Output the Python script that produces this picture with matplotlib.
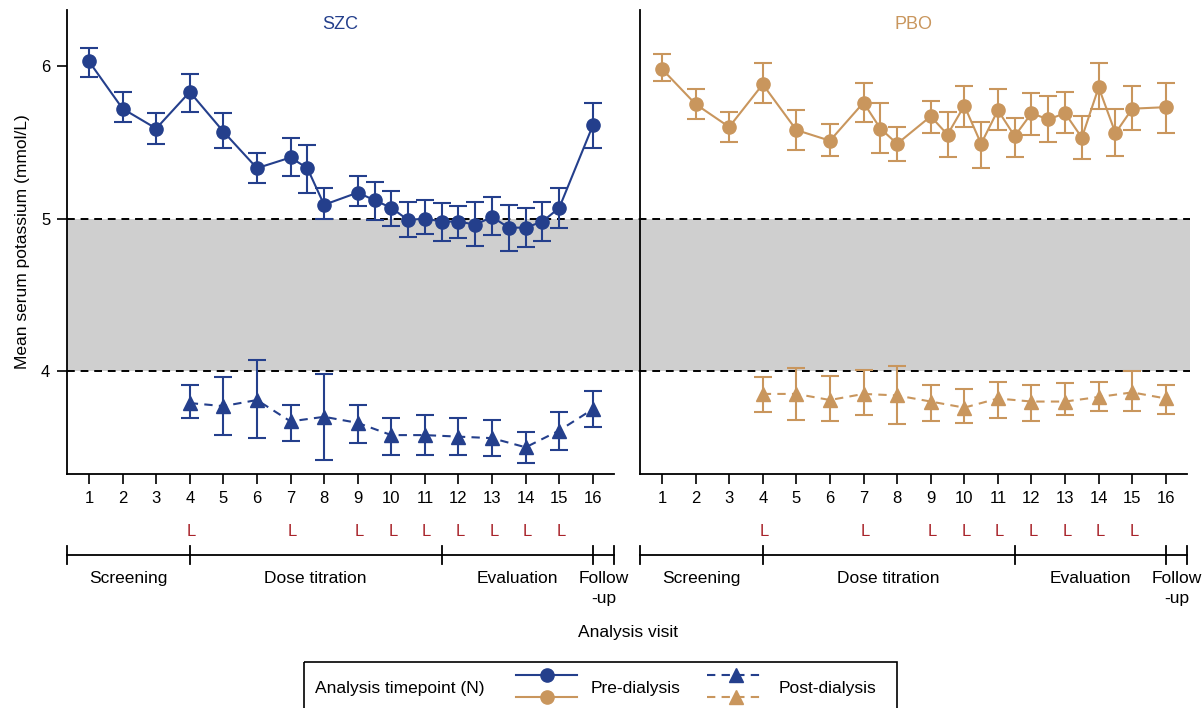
import matplotlib
matplotlib.use('Agg')
import matplotlib.pyplot as plt
from matplotlib.transforms import blended_transform_factory
import numpy as np

plt.rcParams['font.family'] = ['Liberation Sans', 'DejaVu Sans']

# visit positions (pre-dialysis has extra half-visit measurements)
visits = list(range(1, 17))
pre_x = [1, 2, 3, 4, 5, 6, 7, 7.5, 8, 9, 9.5, 10, 10.5, 11, 11.5, 12, 12.5,
         13, 13.5, 14, 14.5, 15, 16]
post_x = [4, 5, 6, 7, 8, 9, 10, 11, 12, 13, 14, 15, 16]

# SZC
szc_pre = [6.03, 5.72, 5.59, 5.83, 5.57, 5.33, 5.40, 5.33, 5.09, 5.17, 5.12, 5.07,
           4.99, 5.00, 4.98, 4.98, 4.96, 5.01, 4.94, 4.94, 4.98, 5.07, 5.61]
szc_pre_lo = [5.93, 5.63, 5.49, 5.70, 5.46, 5.23, 5.28, 5.17, 5.00, 5.08, 4.99, 4.95,
              4.88, 4.90, 4.85, 4.87, 4.82, 4.89, 4.79, 4.81, 4.85, 4.94, 5.46]
szc_pre_hi = [6.12, 5.83, 5.69, 5.95, 5.69, 5.43, 5.53, 5.48, 5.20, 5.28, 5.24, 5.18,
              5.11, 5.12, 5.10, 5.08, 5.11, 5.14, 5.09, 5.07, 5.11, 5.20, 5.76]
szc_post = [3.79, 3.77, 3.81, 3.67, 3.70, 3.66, 3.58, 3.58, 3.57, 3.56, 3.50, 3.61, 3.75]
szc_post_lo = [3.69, 3.58, 3.56, 3.54, 3.42, 3.53, 3.45, 3.45, 3.45, 3.44, 3.40, 3.48, 3.63]
szc_post_hi = [3.91, 3.96, 4.07, 3.78, 3.98, 3.78, 3.69, 3.71, 3.69, 3.68, 3.60, 3.73, 3.87]

# PBO
pbo_pre = [5.98, 5.75, 5.60, 5.88, 5.58, 5.51, 5.76, 5.59, 5.49, 5.67, 5.55, 5.74,
           5.49, 5.71, 5.54, 5.69, 5.65, 5.69, 5.53, 5.86, 5.56, 5.72, 5.73]
pbo_pre_lo = [5.90, 5.65, 5.50, 5.76, 5.45, 5.41, 5.63, 5.43, 5.38, 5.56, 5.40, 5.60,
              5.33, 5.58, 5.40, 5.55, 5.50, 5.56, 5.39, 5.72, 5.41, 5.58, 5.56]
pbo_pre_hi = [6.08, 5.85, 5.70, 6.02, 5.71, 5.62, 5.89, 5.76, 5.60, 5.77, 5.70, 5.87,
              5.63, 5.85, 5.66, 5.82, 5.80, 5.83, 5.67, 6.02, 5.72, 5.87, 5.89]
pbo_post = [3.85, 3.85, 3.81, 3.85, 3.84, 3.80, 3.76, 3.82, 3.80, 3.80, 3.83, 3.86, 3.82]
pbo_post_lo = [3.73, 3.68, 3.67, 3.71, 3.65, 3.67, 3.66, 3.69, 3.67, 3.71, 3.74, 3.74, 3.72]
pbo_post_hi = [3.96, 4.02, 3.97, 4.01, 4.03, 3.91, 3.88, 3.93, 3.91, 3.92, 3.93, 4.00, 3.91]

l_visits = [4, 7, 9, 10, 11, 12, 13, 14, 15]
phase_edges = [4, 11.5, 16]
phase_labels = ['Screening', 'Dose titration', 'Evaluation', 'Follow\n-up']

blue = '#243f8c'
tan = '#c9965d'
red = '#a8232a'
XMIN, XMAX = 0.345, 16.63
YMIN, YMAX = 3.325, 6.367

W, H = 1204, 708
fig = plt.figure(figsize=(W / 100, H / 100), dpi=100)

def fx(px):
    return px / W

def fy(py):
    return 1 - py / H

ax_bottom, ax_h = fy(474), (474 - 10) / H

# background band shared by both panels
bg = fig.add_axes([fx(67), ax_bottom, fx(1190 - 67), ax_h], zorder=0)
bg.set_xlim(0, 1)
bg.set_ylim(YMIN, YMAX)
bg.axhspan(4, 5, color='#cfcfcf', lw=0)
bg.axhline(4, color='black', ls=(0, (4, 3)), lw=1.4)
bg.axhline(5, color='black', ls=(0, (4, 3)), lw=1.4)
bg.axis('off')

panels = [
    (67, 'SZC', blue, szc_pre, szc_pre_lo, szc_pre_hi, szc_post, szc_post_lo, szc_post_hi),
    (640, 'PBO', tan, pbo_pre, pbo_pre_lo, pbo_pre_hi, pbo_post, pbo_post_lo, pbo_post_hi),
]

for i, (left_px, name, col, pre, pre_lo, pre_hi, post, post_lo, post_hi) in enumerate(panels):
    ax = fig.add_axes([fx(left_px), ax_bottom, fx(547), ax_h], zorder=1)
    ax.patch.set_alpha(0)
    ax.set_xlim(XMIN, XMAX)
    ax.set_ylim(YMIN, YMAX)

    pre = np.array(pre)
    post = np.array(post)
    ax.errorbar(pre_x, pre, yerr=[pre - np.array(pre_lo), np.array(pre_hi) - pre],
                fmt='-o', color=col, ms=9.5, lw=1.5, elinewidth=1.5, capsize=6.5,
                capthick=1.5)
    ax.errorbar(post_x, post, yerr=[post - np.array(post_lo), np.array(post_hi) - post],
                fmt='--^', color=col, ms=10, lw=1.5, elinewidth=1.5, capsize=6.5,
                capthick=1.5, dashes=(4, 3))

    for s in ['top', 'right']:
        ax.spines[s].set_visible(False)
    ax.spines['left'].set_linewidth(1.3)
    ax.spines['bottom'].set_linewidth(1.3)

    ax.set_xticks(visits)
    ax.set_xticklabels([str(v) for v in visits], fontsize=12)
    ax.tick_params(axis='x', length=7, width=1.2, pad=5)
    if i == 0:
        ax.set_yticks([4, 5, 6])
        ax.set_yticklabels(['4', '5', '6'], fontsize=12)
        ax.tick_params(axis='y', length=7, width=1.2, pad=5)
        ax.set_ylabel('Mean serum potassium (mmol/L)', fontsize=12.5, labelpad=8)
    else:
        ax.set_yticks([])

    ax.text(0.5, 0.968, name, transform=ax.transAxes, ha='center', va='center',
            color=col, fontsize=13)

    tr = blended_transform_factory(ax.transData, fig.transFigure)
    for v in l_visits:
        ax.text(v + 0.05, fy(532), 'L', transform=tr, ha='center', va='center',
                color=red, fontsize=12)

    # phase bar
    ax.plot([XMIN, XMAX], [fy(555), fy(555)], color='black', lw=1.3,
            transform=tr, clip_on=False)
    for e in [XMIN] + phase_edges + [XMAX]:
        ax.plot([e, e], [fy(546), fy(564)], color='black', lw=1.3,
                transform=tr, clip_on=False)
    bounds = [XMIN] + phase_edges + [XMAX]
    for j, lab in enumerate(phase_labels):
        mid = (bounds[j] + bounds[j + 1]) / 2
        ax.text(mid, fy(571), lab, transform=tr, ha='center', va='top',
                fontsize=12.5, linespacing=1.45)

fig.text(fx(628), fy(633), 'Analysis visit', ha='center', va='center', fontsize=12.5)

# legend drawn in pixel space
lg = fig.add_axes([0, 0, 1, 1], zorder=2)
lg.set_xlim(0, W)
lg.set_ylim(H, 0)
lg.axis('off')
lg.add_patch(plt.Rectangle((304, 662), 593, 60, fill=False, ec='black', lw=1.2,
                           clip_on=False))
lg.text(315, 688, 'Analysis timepoint (N)', ha='left', va='center', fontsize=12.5)
for col, yy in [(blue, 675), (tan, 697)]:
    lg.plot([516, 577], [yy, yy], color=col, lw=1.5)
    lg.plot([547], [yy], 'o', color=col, ms=9.5)
    lg.plot([707, 763], [yy, yy], color=col, lw=1.5, dashes=(4, 3))
    lg.plot([736], [yy], '^', color=col, ms=10)
lg.text(591, 688, 'Pre-dialysis', ha='left', va='center', fontsize=12.5)
lg.text(779, 688, 'Post-dialysis', ha='left', va='center', fontsize=12.5)

fig.savefig('out.png', dpi=100)
